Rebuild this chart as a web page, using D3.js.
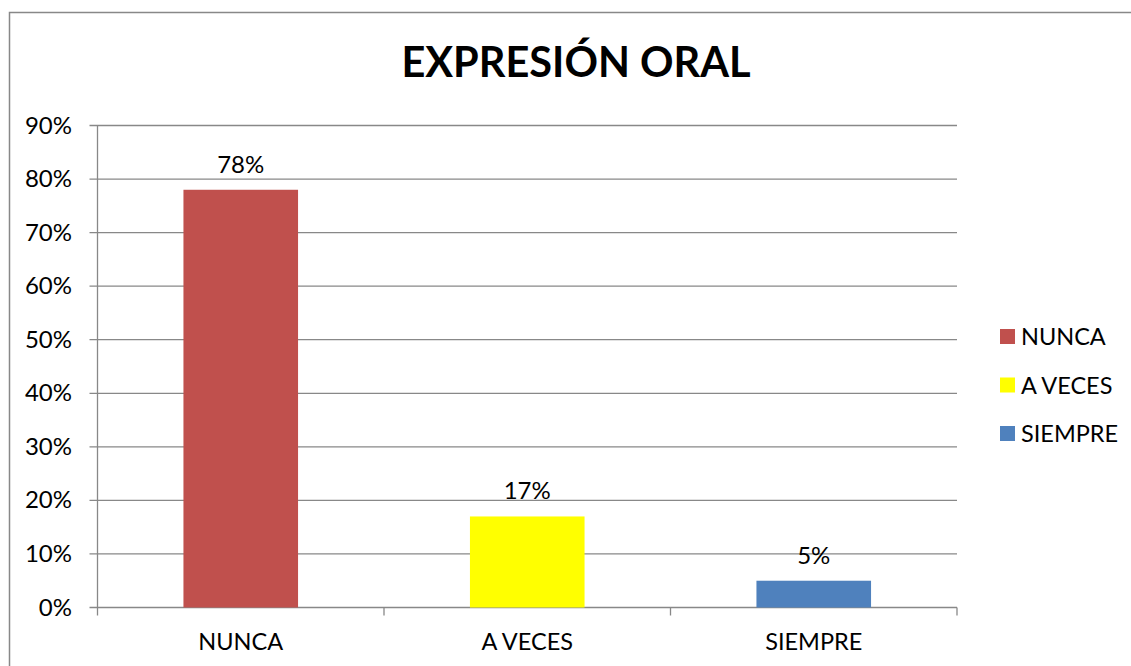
<!DOCTYPE html>
<html>
<head>
<meta charset="utf-8">
<script src="https://cdn.jsdelivr.net/npm/d3@7"></script>
<style>
  body { margin: 0; background: #fff; }
  svg text { font-family: Lato, "Open Sans", sans-serif; fill: #000; }
</style>
</head>
<body>
<div id="chart"></div>
<script>
// data
const title = 'EXPRESIÓN ORAL'
const categories = ['NUNCA', 'A VECES', 'SIEMPRE']
const values = [0.78, 0.17, 0.05]
const labels = ['78%', '17%', '5%']
const colors = ['#C0504D', '#FFFF00', '#4F81BD']
const yTicks = [0, 0.1, 0.2, 0.3, 0.4, 0.5, 0.6, 0.7, 0.8, 0.9]

const W = 1131, H = 666
const plot = { left: 97.5, right: 957, top: 125.5, bottom: 607.5 }

const svg = d3.select('#chart').append('svg')
  .attr('width', W)
  .attr('height', H)

// outer border
svg.append('rect')
  .attr('x', 9.5).attr('y', 12.5)
  .attr('width', W + 10).attr('height', H + 10)
  .attr('fill', 'none')
  .attr('stroke', '#888')
  .attr('stroke-width', 1.5)

const x = d3.scaleBand()
  .domain(categories)
  .range([plot.left, plot.right])
  .padding(0)
const y = d3.scaleLinear()
  .domain([0, 0.9])
  .range([plot.bottom, plot.top])

// grid lines
svg.append('g')
  .selectAll('line')
  .data(yTicks)
  .join('line')
  .attr('x1', plot.left - 8).attr('x2', plot.right)
  .attr('y1', d => y(d)).attr('y2', d => y(d))
  .attr('stroke', '#888')
  .attr('stroke-width', 1.3)

// y axis line
svg.append('line')
  .attr('x1', plot.left).attr('x2', plot.left)
  .attr('y1', plot.top).attr('y2', plot.bottom + 8)
  .attr('stroke', '#888')
  .attr('stroke-width', 1.3)

// x ticks
const xEdges = categories.map(c => x(c)).concat([plot.right])
svg.append('g')
  .selectAll('line')
  .data(xEdges.slice(1))
  .join('line')
  .attr('x1', d => d).attr('x2', d => d)
  .attr('y1', plot.bottom).attr('y2', plot.bottom + 8)
  .attr('stroke', '#888')
  .attr('stroke-width', 1.3)

// y labels
svg.append('g')
  .selectAll('text')
  .data(yTicks)
  .join('text')
  .attr('x', 72)
  .attr('y', d => y(d) + 8)
  .attr('text-anchor', 'end')
  .attr('font-size', 24)
  .text(d => Math.round(d * 100) + '%')

// bars
const barW = x.bandwidth() * 0.4
svg.append('g')
  .selectAll('rect')
  .data(values)
  .join('rect')
  .attr('x', (d, i) => x(categories[i]) + x.bandwidth() / 2 - barW / 2)
  .attr('width', barW)
  .attr('y', d => y(d))
  .attr('height', d => y(0) - y(d))
  .attr('fill', (d, i) => colors[i])

// value labels
svg.append('g')
  .selectAll('text')
  .data(values)
  .join('text')
  .attr('x', (d, i) => x(categories[i]) + x.bandwidth() / 2)
  .attr('y', d => y(d) - 17)
  .attr('text-anchor', 'middle')
  .attr('font-size', 24)
  .text((d, i) => labels[i])

// category labels
svg.append('g')
  .selectAll('text')
  .data(categories)
  .join('text')
  .attr('x', d => x(d) + x.bandwidth() / 2)
  .attr('y', 650)
  .attr('text-anchor', 'middle')
  .attr('font-size', 23.5)
  .text(d => d)

// title
svg.append('text')
  .attr('x', 576)
  .attr('y', 77)
  .attr('text-anchor', 'middle')
  .attr('font-size', 41.5)
  .attr('font-weight', 'bold')
  .text(title)

// legend
const legend = svg.append('g')
  .selectAll('g')
  .data(categories)
  .join('g')
  .attr('transform', (d, i) => 'translate(1000,' + (329 + i * 48.5) + ')')
legend.append('rect')
  .attr('width', 15).attr('height', 15)
  .attr('fill', (d, i) => colors[i])
legend.append('text')
  .attr('x', 21).attr('y', 16)
  .attr('font-size', 23.5)
  .text(d => d)
</script>
</body>
</html>
